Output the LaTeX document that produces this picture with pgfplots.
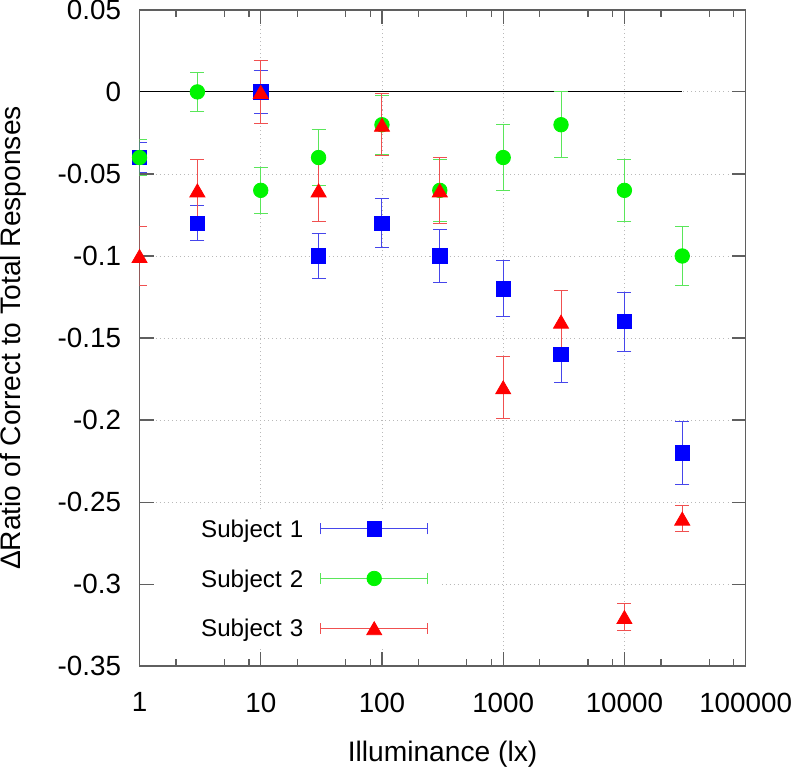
\documentclass[border=0pt]{standalone}
\usepackage{fontspec}
\setmainfont{Liberation Sans}
\usepackage{pgfplots}
\pgfplotsset{compat=1.18}
\definecolor{mblue}{RGB}{0,0,255}
\definecolor{eblue}{RGB}{70,70,235}
\definecolor{mgreen}{RGB}{0,245,0}
\definecolor{egreen}{RGB}{90,230,90}
\definecolor{mred}{RGB}{255,0,0}
\definecolor{ered}{RGB}{240,80,80}
\definecolor{framegray}{RGB}{95,95,95}
\pgfplotsset{
  myleg/.style={legend image code/.code={
    \draw[#1, line width=0.5pt] (0pt,0pt) -- (53pt,0pt);
    \draw[#1, line width=0.5pt] (0pt,-2.75pt) -- (0pt,2.75pt);
    \draw[#1, line width=0.5pt] (53pt,-2.75pt) -- (53pt,2.75pt);
    \draw[mark repeat=2,mark phase=2] plot coordinates {(0pt,0pt) (26.5pt,0pt) (53pt,0pt)};
  }},
  myerr/.style={
    error bars/.cd, y dir=both, y explicit,
    error bar style={color=#1, line width=0.5pt},
    error mark options={rotate=90, mark size=3.5pt, line width=0.5pt, color=#1},
  },
}
\begin{document}
\begin{tikzpicture}
\begin{axis}[
  scale only axis,
  width=301pt, height=326pt,
  xmode=log, xmin=1, xmax=100000,
  ymin=-0.35, ymax=0.05,
  xtick={1,10,100,1000,10000,100000},
  xticklabels={1,10,100,1000,10000,100000},
  minor xtick={2,5,8,20,50,80,200,500,800,2000,5000,8000,20000,50000,80000},
  ytick={-0.35,-0.3,-0.25,-0.2,-0.15,-0.1,-0.05,0,0.05},
  yticklabels={-0.35,-0.3,-0.25,-0.2,-0.15,-0.1,-0.05,0,0.05},
  tick align=inside, tick pos=both,
  major tick length=7pt, minor tick length=3.5pt,
  every tick/.style={framegray, line width=0.6pt},
  axis line style={framegray, line width=0.8pt},
  grid=major,
  major grid style={gray!55, line width=0.4pt, dash pattern=on 0.5pt off 1.5pt},
  tick label style={font=\fontsize{13.8}{16}\selectfont},
  yticklabel style={anchor=east, inner sep=0pt, xshift=-9pt},
  xticklabel style={anchor=north, inner sep=0pt, yshift=-13pt},
  label style={font=\fontsize{14}{16}\selectfont},
  xlabel={Illuminance (lx)},
  ylabel={ΔRatio of Correct to Total Responses},
  xlabel style={at={(axis description cs:0.5,-0.1135)}, anchor=north, inner sep=0pt},
  ylabel style={at={(axis description cs:-0.2309,0.5)}, anchor=north, inner sep=0pt, rotate=0},
  legend style={
    at={(axis description cs:0.5,0.2385)}, anchor=north east,
    draw=none, fill=white,
    inner xsep=7pt, inner ysep=3pt,
    row sep=12.2pt, column sep=8.5pt,
    font=\fontsize{12}{14}\selectfont,
    nodes={inner sep=0pt, text height=10.5pt, text depth=2pt, text width=67pt, align=right},
  },
  legend plot pos=right,
  legend cell align=right,
]
\addplot[black, line width=0.6pt, forget plot] coordinates {(1,0) (30000,0)};

\addplot[only marks, mark=square*, mark size=3.6pt, color=mblue, myleg=eblue, myerr=eblue]
coordinates {
(1,-0.04) +- (0,0.009)
(3,-0.08) +- (0,0.0105)
(10,0) +- (0,0.013)
(30,-0.1) +- (0,0.014)
(100,-0.08) +- (0,0.015)
(300,-0.1) +- (0,0.016)
(1000,-0.12) +- (0,0.017)
(3000,-0.16) +- (0,0.017)
(10000,-0.14) +- (0,0.018)
(30000,-0.22) +- (0,0.019)
};
\addlegendentry{Subject 1}

\addplot[only marks, mark=*, mark size=3.6pt, color=mgreen, myleg=egreen, myerr=egreen]
coordinates {
(1,-0.04) +- (0,0.011)
(3,0) +- (0,0.012)
(10,-0.06) +- (0,0.014)
(30,-0.04) +- (0,0.017)
(100,-0.02) +- (0,0.018)
(300,-0.06) +- (0,0.019)
(1000,-0.04) +- (0,0.02)
(3000,-0.02) +- (0,0.02)
(10000,-0.06) +- (0,0.019)
(30000,-0.1) +- (0,0.018)
};
\addlegendentry{Subject 2}

\addplot[only marks, mark=triangle*, mark size=4.3pt, mark options={yshift=-1.1pt}, color=mred, myleg=ered, myerr=ered]
coordinates {
(1,-0.1) +- (0,0.018)
(3,-0.06) +- (0,0.0186)
(10,0) +- (0,0.019)
(30,-0.06) +- (0,0.019)
(100,-0.02) +- (0,0.019)
(300,-0.06) +- (0,0.02)
(1000,-0.18) +- (0,0.019)
(3000,-0.14) +- (0,0.019)
(10000,-0.32) +- (0,0.0085)
(30000,-0.26) +- (0,0.0077)
};
\addlegendentry{Subject 3}
\end{axis}
\end{tikzpicture}
\end{document}
